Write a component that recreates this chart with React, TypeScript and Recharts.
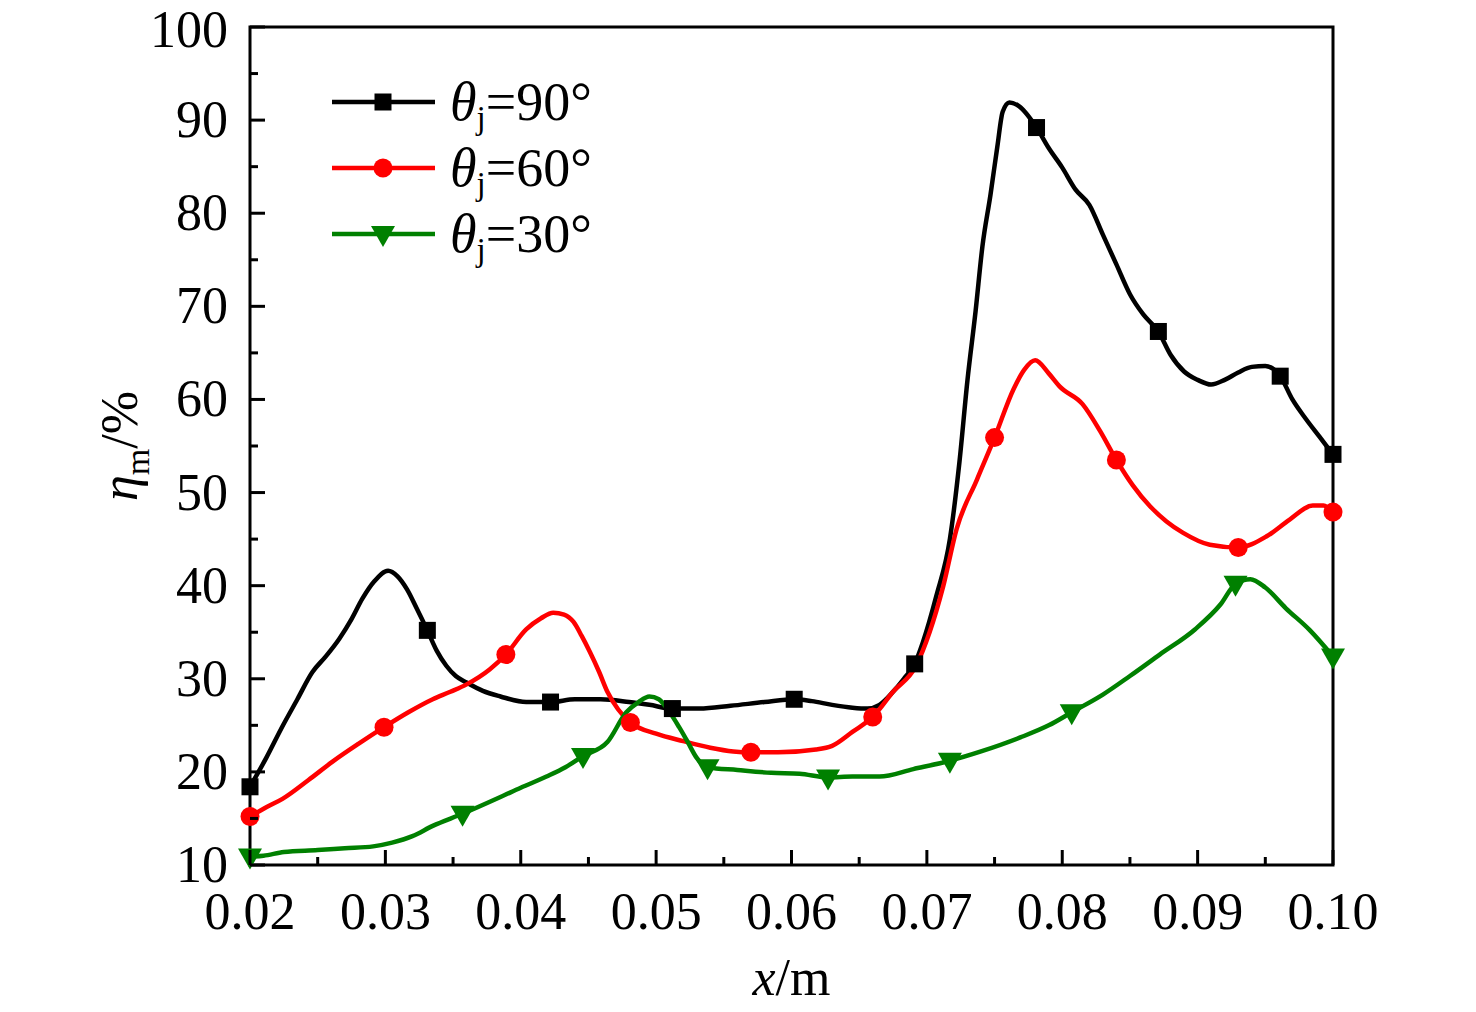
import React from "react";
import { LineChart, Line, XAxis, YAxis, ReferenceArea, Legend } from "recharts";

const FONT = '"Liberation Serif", "Times New Roman", serif';

if (typeof document !== "undefined") document.body.style.margin = "0";

// x positions (m) and efficiency (%)
const black90X = [0.02, 0.0212, 0.0224, 0.0235, 0.0246, 0.0256, 0.0266, 0.0275, 0.0283, 0.0292, 0.0302, 0.0309, 0.0316, 0.0323, 0.0331, 0.0338, 0.0345, 0.0352, 0.036, 0.0372, 0.0385, 0.0404, 0.0422, 0.044, 0.0459, 0.048, 0.0495, 0.0512, 0.0532, 0.0555, 0.058, 0.0602, 0.0615, 0.063, 0.0645, 0.0656, 0.0665, 0.0675, 0.0683, 0.0691, 0.0697, 0.0707, 0.0717, 0.0724, 0.073, 0.0736, 0.0741, 0.0747, 0.0752, 0.0756, 0.0761, 0.0768, 0.0781, 0.079, 0.08, 0.081, 0.082, 0.083, 0.084, 0.085, 0.086, 0.0871, 0.088, 0.089, 0.09, 0.091, 0.092, 0.093, 0.094, 0.095, 0.0961, 0.097, 0.098, 0.099, 0.1];
const black90Y = [18.4, 21.5, 24.9, 27.8, 30.7, 32.4, 34.3, 36.4, 38.6, 40.5, 41.6, 41.0, 39.6, 37.6, 35.2, 33.0, 31.4, 30.3, 29.6, 28.7, 28.1, 27.5, 27.5, 27.8, 27.8, 27.5, 27.2, 26.8, 26.8, 27.1, 27.5, 27.8, 27.6, 27.2, 26.9, 26.8, 27.2, 28.6, 30.0, 31.6, 33.9, 38.9, 45.0, 53.2, 62.1, 69.5, 76.4, 82.0, 87.1, 90.9, 91.9, 91.5, 89.2, 87.0, 84.9, 82.5, 80.9, 77.7, 74.5, 71.3, 69.1, 67.3, 64.8, 63.0, 62.1, 61.6, 62.1, 62.9, 63.5, 63.6, 62.5, 60.0, 57.9, 56.0, 54.1];
const black90Markers = [0.02, 0.0331, 0.0422, 0.0512, 0.0602, 0.0691, 0.0781, 0.0871, 0.0961, 0.1];

const red60X = [0.02, 0.0212, 0.0224, 0.0243, 0.0261, 0.028, 0.0299, 0.0317, 0.0335, 0.0348, 0.036, 0.0377, 0.0389, 0.0404, 0.0415, 0.0424, 0.0432, 0.0439, 0.0445, 0.0451, 0.0458, 0.0464, 0.0472, 0.0481, 0.05, 0.052, 0.054, 0.0557, 0.057, 0.059, 0.0618, 0.063, 0.0645, 0.066, 0.0675, 0.0692, 0.0702, 0.0712, 0.0722, 0.0737, 0.075, 0.0764, 0.0772, 0.078, 0.079, 0.0798, 0.0815, 0.0828, 0.084, 0.0852, 0.0865, 0.0877, 0.0889, 0.0909, 0.093, 0.0951, 0.0968, 0.0985, 0.0993, 0.1];
const red60Y = [15.2, 16.2, 17.1, 19.1, 21.1, 23.0, 24.8, 26.4, 27.8, 28.6, 29.4, 31.0, 32.6, 35.3, 36.5, 37.1, 36.9, 36.1, 34.6, 32.9, 30.7, 28.6, 26.7, 25.3, 24.1, 23.3, 22.6, 22.2, 22.1, 22.1, 22.4, 22.8, 24.3, 25.9, 28.6, 31.4, 35.0, 39.9, 46.1, 51.4, 55.9, 61.1, 63.2, 64.2, 62.8, 61.4, 59.5, 56.6, 53.5, 50.8, 48.5, 46.9, 45.7, 44.4, 44.1, 45.3, 47.1, 48.6, 48.6, 47.9];
const red60Markers = [0.02, 0.0299, 0.0389, 0.0481, 0.057, 0.066, 0.075, 0.084, 0.093, 0.1];

const green30X = [0.02, 0.021, 0.0225, 0.025, 0.027, 0.0291, 0.0305, 0.032, 0.0335, 0.0357, 0.0385, 0.04, 0.0419, 0.0433, 0.0446, 0.0464, 0.0478, 0.0487, 0.0495, 0.0502, 0.051, 0.0517, 0.0523, 0.053, 0.0538, 0.056, 0.0585, 0.0606, 0.0627, 0.0645, 0.0665, 0.069, 0.0717, 0.074, 0.0769, 0.079, 0.0807, 0.083, 0.085, 0.0872, 0.0898, 0.0917, 0.0928, 0.0939, 0.095, 0.0965, 0.0983, 0.1];
const green30Y = [10.9, 11.0, 11.4, 11.6, 11.8, 12.0, 12.4, 13.1, 14.2, 15.5, 17.3, 18.3, 19.5, 20.5, 21.7, 23.2, 26.4, 27.5, 28.1, 27.8, 26.4, 24.8, 23.3, 21.5, 20.5, 20.2, 19.9, 19.8, 19.4, 19.5, 19.5, 20.3, 21.2, 22.2, 23.7, 25.0, 26.4, 28.3, 30.3, 32.6, 35.3, 38.0, 40.2, 40.7, 39.8, 37.6, 35.2, 32.4];
const green30Markers = [0.02, 0.0357, 0.0446, 0.0538, 0.0627, 0.0717, 0.0807, 0.0928, 0.1];

const xTicks = [0.02, 0.025, 0.03, 0.035, 0.04, 0.045, 0.05, 0.055, 0.06, 0.065, 0.07, 0.075, 0.08, 0.085, 0.09, 0.095, 0.1];
const yTicks = [10, 15, 20, 25, 30, 35, 40, 45, 50, 55, 60, 65, 70, 75, 80, 85, 90, 95, 100];

const legendLabels = ["90°", "60°", "30°"];

const buildSeries = (xs: number[], ys: number[], markers: number[]) =>
  xs.map((x, i) => ({ x, y: ys[i], m: markers.some((mx) => Math.abs(mx - x) < 1e-6) }));

const seriesList = [
  { key: "s90", color: "#000000", shape: "square", data: buildSeries(black90X, black90Y, black90Markers) },
  { key: "s60", color: "#ff0000", shape: "circle", data: buildSeries(red60X, red60Y, red60Markers) },
  { key: "s30", color: "#008000", shape: "triangle", data: buildSeries(green30X, green30Y, green30Markers) },
];

const Marker = ({ shape, color, cx, cy }: { shape: string; color: string; cx: number; cy: number }) => {
  if (shape === "square") return <rect x={cx - 8.5} y={cy - 8.5} width={17} height={17} fill={color} />;
  if (shape === "circle") return <circle cx={cx} cy={cy} r={9.5} fill={color} />;
  return <polygon points={`${cx - 12},${cy - 8} ${cx + 12},${cy - 8} ${cx},${cy + 13}`} fill={color} />;
};

const makeDot = (shape: string, color: string) => (props: any) => {
  const { cx, cy, payload, index } = props;
  if (!payload || !payload.m || cx == null || cy == null) return <g key={`d-${index}`} />;
  return (
    <g key={`d-${index}`}>
      <Marker shape={shape} color={color} cx={cx} cy={cy} />
    </g>
  );
};

const XTick = (props: any) => {
  const { x, y, payload } = props;
  const v = payload.value as number;
  const major = Math.round(v * 1000) % 10 === 0;
  return (
    <g>
      <line x1={x} x2={x} y1={y} y2={y - (major ? 15 : 8)} stroke="#000" strokeWidth={3} />
      {major && (
        <text x={x} y={y + 64} textAnchor="middle" fontFamily={FONT} fontSize={52} fill="#000">
          {v.toFixed(2)}
        </text>
      )}
    </g>
  );
};

const YTick = (props: any) => {
  const { x, y, payload } = props;
  const v = payload.value as number;
  const major = v % 10 === 0;
  // the top label sits a touch lower so it stays inside the page
  const dy = v === 100 ? 20 : 17;
  return (
    <g>
      <line x1={x} x2={x + (major ? 15 : 8)} y1={y} y2={y} stroke="#000" strokeWidth={3} />
      {major && (
        <text x={x - 22} y={y + dy} textAnchor="end" fontFamily={FONT} fontSize={52} fill="#000">
          {v}
        </text>
      )}
    </g>
  );
};

const XLabel = ({ viewBox }: any) => (
  <text x={viewBox.x + viewBox.width / 2} y={viewBox.y + 130} textAnchor="middle" fontFamily={FONT} fontSize={52} fill="#000">
    <tspan fontStyle="italic">x</tspan>
    <tspan>/m</tspan>
  </text>
);

const YLabel = ({ viewBox }: any) => {
  const cx = viewBox.x + viewBox.width - 113;
  const cy = viewBox.y + viewBox.height / 2;
  return (
    <text x={cx} y={cy} transform={`rotate(-90, ${cx}, ${cy})`} textAnchor="middle" fontFamily={FONT} fontSize={52} fill="#000">
      <tspan fontStyle="italic">η</tspan>
      <tspan fontSize={34} dy={12}>m</tspan>
      <tspan dy={-12}>/%</tspan>
    </text>
  );
};

const LegendContent = () => (
  <div style={{ fontFamily: FONT, color: "#000" }}>
    {seriesList.map((s, i) => (
      <div key={s.key} style={{ display: "flex", alignItems: "center", height: 66 }}>
        <svg width={108} height={30} style={{ display: "block" }}>
          <line x1={2} x2={105} y1={15} y2={15} stroke={s.color} strokeWidth={4.5} />
          <Marker shape={s.shape} color={s.color} cx={53} cy={15} />
        </svg>
        <span style={{ marginLeft: 12, fontSize: 54, lineHeight: 1, whiteSpace: "nowrap" }}>
          <span style={{ fontStyle: "italic" }}>θ</span>
          <span style={{ fontSize: 33, position: "relative", top: 9 }}>j</span>
          <span>={legendLabels[i]}</span>
        </span>
      </div>
    ))}
  </div>
);

export default function App() {
  return (
    <div style={{ width: 1476, height: 1012, overflow: "hidden" }}>
      <LineChart width={1476} height={1012} margin={{ top: 27, right: 143, bottom: 87, left: 150 }}>
        <XAxis
          dataKey="x"
          type="number"
          domain={[0.02, 0.1]}
          ticks={xTicks}
          interval={0}
          allowDuplicatedCategory={false}
          height={60}
          axisLine={false}
          tickLine={false}
          tickSize={0}
          tickMargin={0}
          tick={<XTick />}
          label={<XLabel />}
        />
        <YAxis
          type="number"
          domain={[10, 100]}
          ticks={yTicks}
          interval={0}
          width={100}
          axisLine={false}
          tickLine={false}
          tickSize={0}
          tickMargin={0}
          tick={<YTick />}
          label={<YLabel />}
        />
        {seriesList.map((s) => (
          <Line
            key={s.key}
            data={s.data}
            dataKey="y"
            type="monotone"
            stroke={s.color}
            strokeWidth={4.5}
            dot={makeDot(s.shape, s.color)}
            activeDot={false}
            isAnimationActive={false}
          />
        ))}
        <ReferenceArea x1={0.02} x2={0.1} y1={10} y2={100} fill="none" stroke="#000" strokeWidth={3} fillOpacity={0} ifOverflow="visible" />
        <Legend
          content={<LegendContent />}
          layout="horizontal"
          verticalAlign="middle"
          align="center"
          wrapperStyle={{ left: 330, top: 69, width: "auto" }}
        />
      </LineChart>
    </div>
  );
}
